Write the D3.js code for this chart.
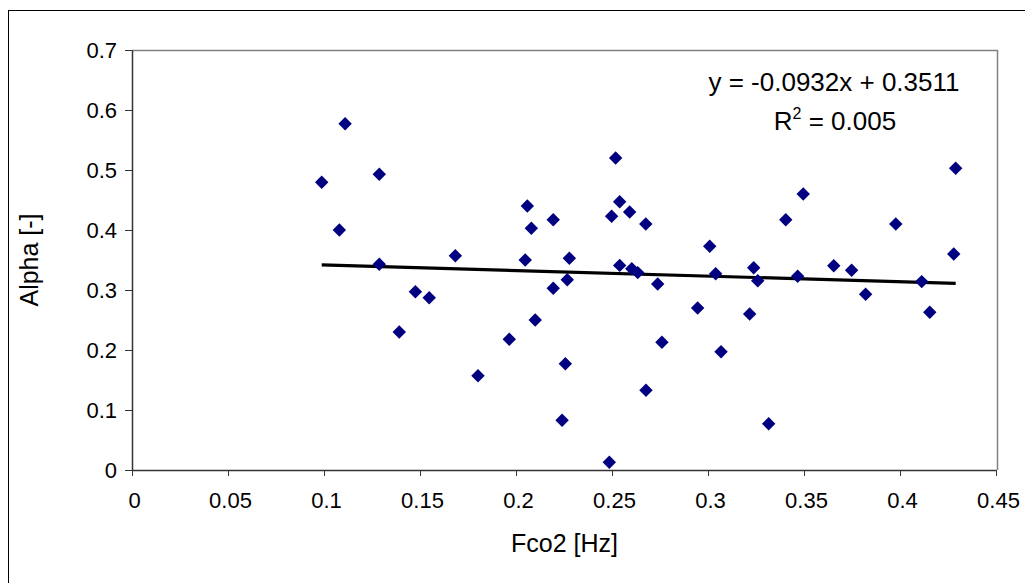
<!DOCTYPE html>
<html>
<head>
<meta charset="utf-8">
<script src="https://cdn.jsdelivr.net/npm/d3@7"></script>
<style>
  html, body { margin: 0; padding: 0; background: #fff; }
  svg { display: block; }
  text { font-family: "Liberation Sans", Arial, sans-serif; fill: #000; }
</style>
</head>
<body>
<svg id="chart" width="1025" height="583"></svg>
<script>
// ---- data ----
const fco2 = [0.0988, 0.108, 0.111, 0.1288, 0.1288, 0.1392, 0.1476, 0.1548, 0.1684, 0.1802,
              0.1965, 0.2048, 0.2059, 0.208, 0.210, 0.2194, 0.2194, 0.224, 0.2257, 0.2267,
              0.2278, 0.2486, 0.2498, 0.2519, 0.254, 0.254, 0.2592, 0.2603, 0.2634, 0.2676,
              0.2677, 0.2738, 0.276, 0.2946, 0.3009, 0.304, 0.3068, 0.3217, 0.3238, 0.3259,
              0.3316, 0.3405, 0.3467, 0.3496, 0.3655, 0.3748, 0.3821, 0.3978, 0.4113, 0.4155,
              0.428, 0.429];
const alpha = [0.4795, 0.400, 0.577, 0.493, 0.343, 0.230, 0.297, 0.287, 0.357, 0.157,
               0.218, 0.350, 0.440, 0.403, 0.250, 0.417, 0.303, 0.083, 0.177, 0.317,
               0.353, 0.013, 0.423, 0.520, 0.447, 0.341, 0.430, 0.3355, 0.329, 0.410,
               0.133, 0.310, 0.213, 0.270, 0.373, 0.327, 0.197, 0.260, 0.337, 0.3155,
               0.077, 0.417, 0.323, 0.460, 0.3405, 0.333, 0.293, 0.410, 0.314, 0.263,
               0.360, 0.503];
const xTicks = [0, 0.05, 0.1, 0.15, 0.2, 0.25, 0.3, 0.35, 0.4, 0.45];
const yTicks = [0, 0.1, 0.2, 0.3, 0.4, 0.5, 0.6, 0.7];
const trendSlope = -0.0932;
const trendIntercept = 0.3511;
const equationText = "y = -0.0932x + 0.3511";
const r2Text = "0.005";
const xTitle = "Fco2 [Hz]";
const yTitle = "Alpha [-]";

// ---- layout ----
const svg = d3.select("#chart");
const plot = { left: 132, top: 50, right: 997, bottom: 470 };

const x = d3.scaleLinear().domain([0, 0.45]).range([plot.left, 996]);
const y = d3.scaleLinear().domain([0, 0.7]).range([plot.bottom, plot.top]);

// outer chart border
svg.append("rect")
  .attr("x", 8.5).attr("y", 10.5)
  .attr("width", 1040).attr("height", 600)
  .attr("fill", "#fff").attr("stroke", "#000").attr("stroke-width", 1);

// plot area border (top/right gray)
svg.append("path")
  .attr("d", `M${plot.left},${plot.top + 0.5}H${plot.right + 0.5}V${plot.bottom}`)
  .attr("fill", "none").attr("stroke", "#808080").attr("stroke-width", 1.5);

// axes
const xAxis = d3.axisBottom(x).tickValues(xTicks).tickSize(6).tickSizeOuter(0)
  .tickFormat(d => String(d));
const yAxis = d3.axisLeft(y).tickValues(yTicks).tickSize(7).tickSizeOuter(0)
  .tickFormat(d => String(d));

const gx = svg.append("g").attr("transform", `translate(0,${plot.bottom})`).call(xAxis);
const gy = svg.append("g").attr("transform", `translate(${plot.left},0)`).call(yAxis);

[gx, gy].forEach(g => {
  g.select(".domain").attr("stroke", "#333").attr("stroke-width", 1.5);
  g.selectAll(".tick line").attr("stroke", "#333").attr("stroke-width", 1);
  g.selectAll(".tick text")
    .attr("font-family", "Liberation Sans, Arial, sans-serif")
    .attr("font-size", 22).attr("fill", "#000");
});
gx.selectAll(".tick text").attr("y", 0).attr("dy", 38).attr("dx", 2);
gy.selectAll(".tick text").attr("x", -15).attr("dy", "0.36em");

// trendline
const xMin = d3.min(fco2), xMax = d3.max(fco2);
svg.append("line")
  .attr("x1", x(xMin)).attr("y1", y(trendSlope * xMin + trendIntercept))
  .attr("x2", x(xMax)).attr("y2", y(trendSlope * xMax + trendIntercept))
  .attr("stroke", "#000").attr("stroke-width", 3.2);

// points
const sym = d3.symbol(d3.symbolSquare, 90);
svg.append("g").selectAll("path")
  .data(fco2.map((v, i) => [v, alpha[i]]))
  .join("path")
  .attr("d", sym)
  .attr("transform", d => `translate(${x(d[0])},${y(d[1])}) rotate(45)`)
  .attr("fill", "#000080");

// equation labels
svg.append("text")
  .attr("x", 834).attr("y", 91)
  .attr("text-anchor", "middle").attr("font-size", 26)
  .text(equationText);
const r2 = svg.append("text")
  .attr("x", 835).attr("y", 130)
  .attr("text-anchor", "middle").attr("font-size", 26);
r2.append("tspan").text("R");
r2.append("tspan").attr("dy", -11).attr("font-size", 16).text("2");
r2.append("tspan").attr("dy", 11).text(" = " + r2Text);

// axis titles
svg.append("text")
  .attr("x", (plot.left + plot.right) / 2).attr("y", 552)
  .attr("text-anchor", "middle").attr("font-size", 25)
  .text(xTitle);
svg.append("text")
  .attr("transform", `translate(38,${(plot.top + plot.bottom) / 2}) rotate(-90)`)
  .attr("text-anchor", "middle").attr("font-size", 25)
  .text(yTitle);
</script>
</body>
</html>
